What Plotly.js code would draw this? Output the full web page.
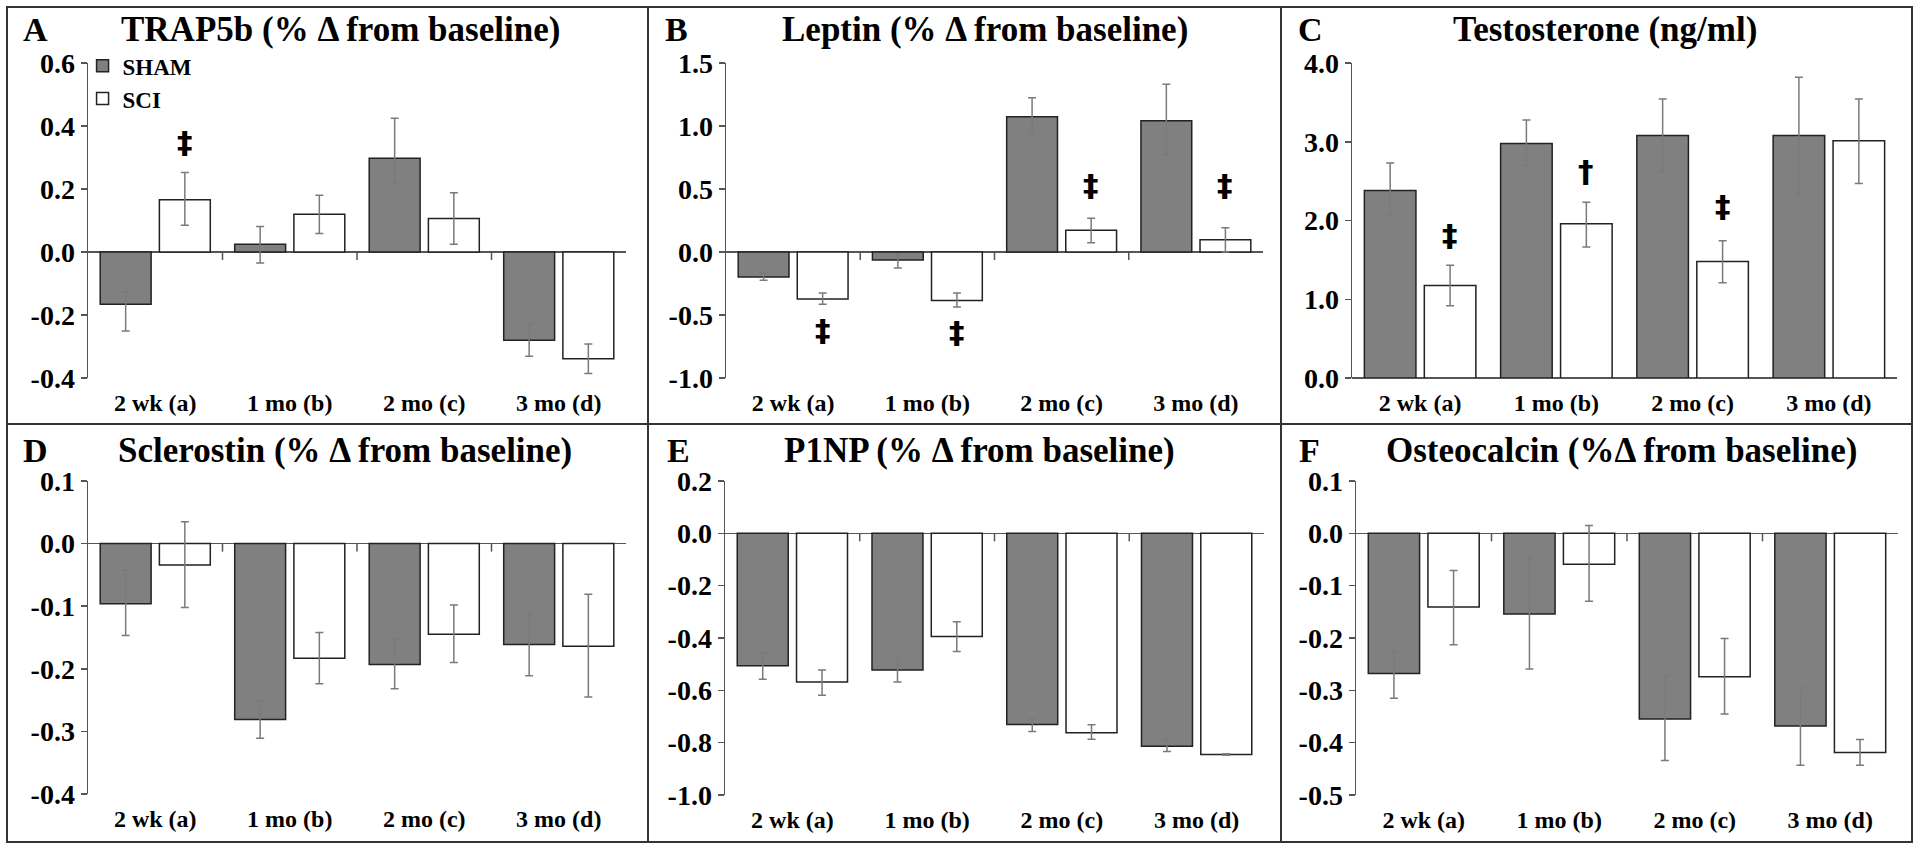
<!DOCTYPE html>
<html><head><meta charset="utf-8">
<script src="https://cdn.plot.ly/plotly-3.0.1.min.js"></script>
<style>html,body{margin:0;padding:0;background:#fff}#chart{width:1920px;height:850px}</style>
</head><body><div id="chart"></div>
<script>
// ---------- DATA ----------
const categories = ['2 wk (a)', '1 mo (b)', '2 mo (c)', '3 mo (d)'];
const seriesNames = ['SHAM', 'SCI'];

// A: TRAP5b
const trapSham = [-0.166, 0.025, 0.298, -0.280];
const trapShamErrPlus = [0.039, 0.056, 0.127, 0.051];
const trapShamErrMinus = [0.085, 0.060, 0.081, 0.051];
const trapSci = [0.166, 0.120, 0.106, -0.339];
const trapSciErrPlus = [0.086, 0.060, 0.082, 0.047];
const trapSciErrMinus = [0.081, 0.061, 0.081, 0.047];
const trapSig = [{cat: 0, y: 0.35, text: '‡'}];
const trapTicks = [-0.4, -0.2, 0.0, 0.2, 0.4, 0.6];

// B: Leptin
const leptinSham = [-0.198, -0.063, 1.074, 1.042];
const leptinShamErrPlus = [0.031, 0.050, 0.151, 0.289];
const leptinShamErrMinus = [0.027, 0.064, 0.140, 0.275];
const leptinSci = [-0.373, -0.384, 0.172, 0.098];
const leptinSciErrPlus = [0.048, 0.059, 0.095, 0.095];
const leptinSciErrMinus = [0.042, 0.053, 0.098, 0.098];
const leptinSig = [{cat: 0, y: -0.62, text: '‡'}, {cat: 1, y: -0.635, text: '‡'}, {cat: 2, y: 0.53, text: '‡'}, {cat: 3, y: 0.53, text: '‡'}];
const leptinTicks = [-1.0, -0.5, 0.0, 0.5, 1.0, 1.5];

// C: Testosterone
const testoSham = [2.381, 2.979, 3.080, 3.080];
const testoShamErrPlus = [0.348, 0.296, 0.462, 0.738];
const testoShamErrMinus = [0.317, 0.284, 0.457, 0.745];
const testoSci = [1.174, 1.958, 1.479, 3.013];
const testoSciErrPlus = [0.258, 0.275, 0.263, 0.529];
const testoSciErrMinus = [0.255, 0.293, 0.271, 0.543];
const testoSig = [{cat: 0, y: 1.82, text: '‡'}, {cat: 1, y: 2.63, text: '†'}, {cat: 2, y: 2.18, text: '‡'}];
const testoTicks = [0.0, 1.0, 2.0, 3.0, 4.0];

// D: Sclerostin
const sostSham = [-0.096, -0.281, -0.193, -0.161];
const sostShamErrPlus = [0.054, 0.030, 0.040, 0.048];
const sostShamErrMinus = [0.051, 0.030, 0.039, 0.050];
const sostSci = [-0.034, -0.183, -0.145, -0.164];
const sostSciErrPlus = [0.069, 0.041, 0.047, 0.083];
const sostSciErrMinus = [0.068, 0.041, 0.045, 0.081];
const sostTicks = [-0.4, -0.3, -0.2, -0.1, 0.0, 0.1];

// E: P1NP
const p1npSham = [-0.506, -0.522, -0.731, -0.814];
const p1npShamErrPlus = [0.050, 0.047, 0.020, 0.026];
const p1npShamErrMinus = [0.052, 0.046, 0.026, 0.020];
const p1npSci = [-0.568, -0.394, -0.762, -0.845];
const p1npSciErrPlus = [0.046, 0.056, 0.030, 0.003];
const p1npSciErrMinus = [0.051, 0.058, 0.025, 0.003];
const p1npTicks = [-1.0, -0.8, -0.6, -0.4, -0.2, 0.0, 0.2];

// F: Osteocalcin
const ocSham = [-0.268, -0.154, -0.355, -0.368];
const ocShamErrPlus = [0.042, 0.106, 0.082, 0.073];
const ocShamErrMinus = [0.047, 0.105, 0.079, 0.075];
const ocSci = [-0.141, -0.059, -0.274, -0.419];
const ocSciErrPlus = [0.070, 0.074, 0.073, 0.025];
const ocSciErrMinus = [0.072, 0.071, 0.071, 0.024];
const ocTicks = [-0.5, -0.4, -0.3, -0.2, -0.1, 0.0, 0.1];

const panelTitles = ['TRAP5b (% Δ from baseline)', 'Leptin (% Δ from baseline)', 'Testosterone (ng/ml)',
  'Sclerostin (% Δ from baseline)', 'P1NP (% Δ from baseline)', 'Osteocalcin (%Δ from baseline)'];
const panelLetters = ['A', 'B', 'C', 'D', 'E', 'F'];

// ---------- STYLE / LAYOUT ----------
const W = 1920, H = 850;
const FONT = '"Liberation Serif", "Times New Roman", serif';
const shamColor = '#808080', sciColor = '#ffffff', edgeColor = '#222222', errColor = '#7a7a7a', axisColor = '#555555';

const panels = [
  {sham: trapSham, shamP: trapShamErrPlus, shamM: trapShamErrMinus, sci: trapSci, sciP: trapSciErrPlus, sciM: trapSciErrMinus, ticks: trapTicks, sig: trapSig,
   px: [88, 626], py: [63, 378], title: [340, 29], letter: [35, 30]},
  {sham: leptinSham, shamP: leptinShamErrPlus, shamM: leptinShamErrMinus, sci: leptinSci, sciP: leptinSciErrPlus, sciM: leptinSciErrMinus, ticks: leptinTicks, sig: leptinSig,
   px: [726, 1263], py: [63, 378], title: [985, 29], letter: [676, 30]},
  {sham: testoSham, shamP: testoShamErrPlus, shamM: testoShamErrMinus, sci: testoSci, sciP: testoSciErrPlus, sciM: testoSciErrMinus, ticks: testoTicks, sig: testoSig,
   px: [1352, 1897], py: [63, 378], title: [1605, 29], letter: [1310, 30]},
  {sham: sostSham, shamP: sostShamErrPlus, shamM: sostShamErrMinus, sci: sostSci, sciP: sostSciErrPlus, sciM: sostSciErrMinus, ticks: sostTicks, sig: [],
   px: [88, 626], py: [481, 794], title: [345, 450], letter: [35, 450]},
  {sham: p1npSham, shamP: p1npShamErrPlus, shamM: p1npShamErrMinus, sci: p1npSci, sciP: p1npSciErrPlus, sciM: p1npSciErrMinus, ticks: p1npTicks, sig: [],
   px: [725, 1264], py: [481, 795], title: [979, 450], letter: [678, 450]},
  {sham: ocSham, shamP: ocShamErrPlus, shamM: ocShamErrMinus, sci: ocSci, sciP: ocSciErrPlus, sciM: ocSciErrMinus, ticks: ocTicks, sig: [],
   px: [1356, 1898], py: [481, 795], title: [1621, 450], letter: [1309, 450]}
];

const data = [];
const layout = {
  width: W, height: H, margin: {l: 0, r: 0, t: 0, b: 0},
  paper_bgcolor: '#fff', plot_bgcolor: '#fff',
  barmode: 'group', bargap: 0.12, bargroupgap: 0.14,
  font: {family: FONT, color: '#000', weight: 'bold'},
  showlegend: true,
  legend: {x: 0.043, y: 0.948, xanchor: 'left', yanchor: 'top', bgcolor: 'rgba(0,0,0,0)',
    font: {family: FONT, size: 23, color: '#000', weight: 'bold'}, tracegroupgap: 0, itemwidth: 30},
  annotations: [], shapes: []
};

panels.forEach((p, i) => {
  const n = i + 1;
  const xa = 'x' + (n === 1 ? '' : n), ya = 'y' + (n === 1 ? '' : n);
  const xk = 'xaxis' + (n === 1 ? '' : n), yk = 'yaxis' + (n === 1 ? '' : n);
  const lo = p.ticks[0], hi = p.ticks[p.ticks.length - 1];
  data.push({
    type: 'bar', name: seriesNames[0], x: categories, y: p.sham, xaxis: xa, yaxis: ya,
    marker: {color: shamColor, line: {color: edgeColor, width: 1.5}},
    error_y: {type: 'data', symmetric: false, array: p.shamP, arrayminus: p.shamM, color: errColor, thickness: 1.5, width: 4},
    showlegend: i === 0, legendgroup: 'sham', hoverinfo: 'skip'
  });
  data.push({
    type: 'bar', name: seriesNames[1], x: categories, y: p.sci, xaxis: xa, yaxis: ya,
    marker: {color: sciColor, line: {color: edgeColor, width: 1.5}},
    error_y: {type: 'data', symmetric: false, array: p.sciP, arrayminus: p.sciM, color: errColor, thickness: 1.5, width: 4},
    showlegend: i === 0, legendgroup: 'sci', hoverinfo: 'skip'
  });
  layout[xk] = {
    domain: [p.px[0] / W, p.px[1] / W], anchor: ya, type: 'category',
    categoryorder: 'array', categoryarray: categories, range: [-0.5, categories.length - 0.5],
    showline: false, showgrid: false, zeroline: false,
    ticks: 'outside', ticklen: 3, tickcolor: 'rgba(0,0,0,0)',
    tickfont: {family: FONT, size: 24, color: '#000', weight: 'bold'}, fixedrange: true
  };
  layout[yk] = {
    domain: [1 - p.py[1] / H, 1 - p.py[0] / H], anchor: xa, range: [lo, hi],
    tickvals: p.ticks, ticktext: p.ticks.map(v => v.toFixed(1)),
    showline: true, linecolor: axisColor, linewidth: 1.5, mirror: false,
    ticks: 'outside', ticklen: 6, tickcolor: axisColor, tickwidth: 1.5,
    showgrid: false, zeroline: true, zerolinecolor: axisColor, zerolinewidth: 1.5,
    tickfont: {family: FONT, size: 28, color: '#000', weight: 'bold'}, fixedrange: true
  };
  // category boundary tick marks on the zero line
  for (let k = 1; k < categories.length; k++) {
    layout.shapes.push({type: 'line', xref: xa, yref: ya, x0: k - 0.5, x1: k - 0.5,
      ysizemode: 'pixel', yanchor: 0, y0: 0, y1: -8, line: {color: axisColor, width: 1.5}});
  }
  // titles
  layout.annotations.push({xref: 'paper', yref: 'paper', x: p.title[0] / W, y: 1 - p.title[1] / H,
    text: panelTitles[i], showarrow: false, xanchor: 'center', yanchor: 'middle',
    font: {family: FONT, size: 35, color: '#000', weight: 'bold'}});
  layout.annotations.push({xref: 'paper', yref: 'paper', x: p.letter[0] / W, y: 1 - p.letter[1] / H,
    text: panelLetters[i], showarrow: false, xanchor: 'center', yanchor: 'middle',
    font: {family: FONT, size: 34, color: '#000', weight: 'bold'}});
  // significance markers (over the SCI bar)
  p.sig.forEach(s => {
    layout.annotations.push({xref: xa, yref: ya, x: s.cat + 0.22, y: s.y, text: s.text, showarrow: false,
      xanchor: 'center', yanchor: 'middle', font: {family: 'DejaVu Sans, sans-serif', size: 31, color: '#000', weight: 'bold'}});
  });
});

// figure frame and panel dividers
const frame = {l: 7, r: 1912, t: 7, b: 842, v1: 648, v2: 1281, h: 424};
const lineStyle = {color: '#333', width: 2};
layout.shapes.push({type: 'rect', xref: 'paper', yref: 'paper', x0: frame.l / W, x1: frame.r / W, y0: 1 - frame.b / H, y1: 1 - frame.t / H, line: lineStyle});
layout.shapes.push({type: 'line', xref: 'paper', yref: 'paper', x0: frame.v1 / W, x1: frame.v1 / W, y0: 1 - frame.b / H, y1: 1 - frame.t / H, line: lineStyle});
layout.shapes.push({type: 'line', xref: 'paper', yref: 'paper', x0: frame.v2 / W, x1: frame.v2 / W, y0: 1 - frame.b / H, y1: 1 - frame.t / H, line: lineStyle});
layout.shapes.push({type: 'line', xref: 'paper', yref: 'paper', x0: frame.l / W, x1: frame.r / W, y0: 1 - frame.h / H, y1: 1 - frame.h / H, line: lineStyle});

Plotly.newPlot('chart', data, layout, {displayModeBar: false, staticPlot: true});
</script>
</body></html>
